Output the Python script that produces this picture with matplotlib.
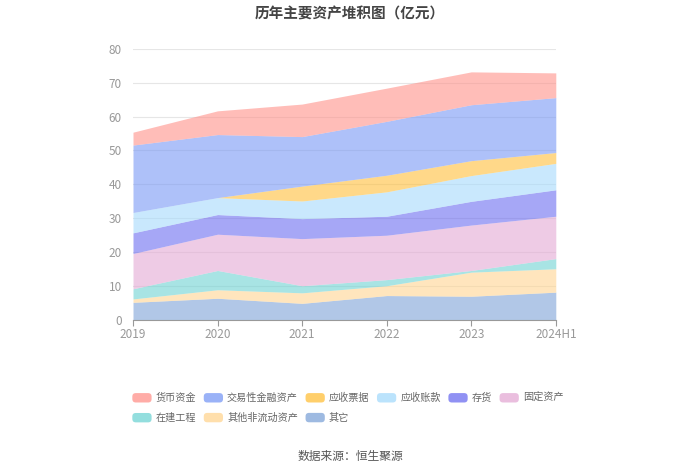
import matplotlib.pyplot as plt
from matplotlib.patches import FancyBboxPatch
from matplotlib.legend_handler import HandlerPatch
import numpy as np

plt.rcParams['font.family'] = ['Noto Sans CJK SC', 'DejaVu Sans']

years = ['2019', '2020', '2021', '2022', '2023', '2024H1']

# stacked from the bottom up (亿元)
qita = [5.2, 6.4, 4.9, 7.2, 7.0, 8.2]
qita_fldzc = [1.0, 2.5, 3.1, 2.9, 7.1, 6.9]
zjgc = [3.0, 5.7, 2.1, 1.8, 0.5, 3.0]
gdzc = [10.4, 10.7, 13.9, 13.1, 13.4, 12.5]
cunhuo = [6.1, 5.8, 5.9, 5.6, 7.0, 7.8]
yszk = [6.0, 5.0, 5.2, 7.2, 7.6, 7.8]
yspj = [0.0, 0.0, 4.4, 4.9, 4.4, 3.2]
jyxjrzc = [19.9, 18.6, 14.6, 15.9, 16.5, 16.2]
hbzj = [3.8, 7.0, 9.6, 9.8, 9.7, 7.3]

series = [qita, qita_fldzc, zjgc, gdzc, cunhuo, yszk, yspj, jyxjrzc, hbzj]
names = ['其它', '其他非流动资产', '在建工程', '固定资产', '存货', '应收账款',
         '应收票据', '交易性金融资产', '货币资金']
colors = ['#7ea3d8', '#ffd591', '#6fd3d3', '#e3a9d4', '#6b6cf0', '#a5dafc',
          '#ffbf3a', '#7898f5', '#ff918a']

fig = plt.figure(figsize=(7, 4.74), dpi=100)
ax = fig.add_axes([0.19, 0.325, 0.604, 0.572])

x = np.arange(len(years))
base = np.zeros(len(years))
for vals, c in zip(series, colors):
    top = base + np.array(vals)
    ax.fill_between(x, base, top, color=c, alpha=0.6, linewidth=0)
    base = top

ax.set_xlim(0, len(years) - 1)
ax.set_ylim(0, 80)
ax.set_yticks(range(0, 81, 10))
ax.set_xticks(x)
ax.set_xticklabels(years)
ax.grid(axis='y', color='#e6e6e6', linewidth=0.8)
ax.set_axisbelow(True)
for s in ['top', 'right', 'left']:
    ax.spines[s].set_visible(False)
ax.spines['bottom'].set_color('#999999')
ax.tick_params(axis='y', length=0, labelsize=8.5, labelcolor='#999999', pad=8)
ax.tick_params(axis='x', length=4, color='#999999', labelsize=8.5,
               labelcolor='#999999', pad=2)

fig.text(0.5, 0.972, '历年主要资产堆积图（亿元）', ha='center', va='center',
         fontsize=10.5, fontweight='bold', color='#444444')
fig.text(0.5, 0.036, '数据来源：恒生聚源', ha='center', va='center',
         fontsize=8.5, color='#555555')


class RoundHandler(HandlerPatch):
    def create_artists(self, legend, orig_handle, xdescent, ydescent,
                       width, height, fontsize, trans):
        p = FancyBboxPatch((-xdescent, -ydescent), width, height,
                           boxstyle='round,pad=0,rounding_size=2.5',
                           facecolor=orig_handle.get_facecolor(),
                           edgecolor='none', transform=trans)
        return [p]


handles = [plt.Rectangle((0, 0), 1, 1, facecolor=c, alpha=0.75) for c in colors]
leg_order = [8, 7, 6, 5, 4, 3, 2, 1, 0]  # 货币资金 ... 其它
hs = [handles[i] for i in leg_order]
ls = [names[i] for i in leg_order]
# column-major arrangement so rows read left to right
arr = [0, 6, 1, 7, 2, 8, 3, 4, 5]
leg = fig.legend([hs[i] for i in arr], [ls[i] for i in arr], ncol=6,
                 loc='upper left', bbox_to_anchor=(0.176, 0.19),
                 frameon=False, fontsize=7.3, labelcolor='#666666',
                 handlelength=1.9, handleheight=1.05, handletextpad=0.4,
                 columnspacing=0.75, labelspacing=0.95,
                 handler_map={plt.Rectangle: RoundHandler()})

fig.savefig('out.png', dpi=100)
